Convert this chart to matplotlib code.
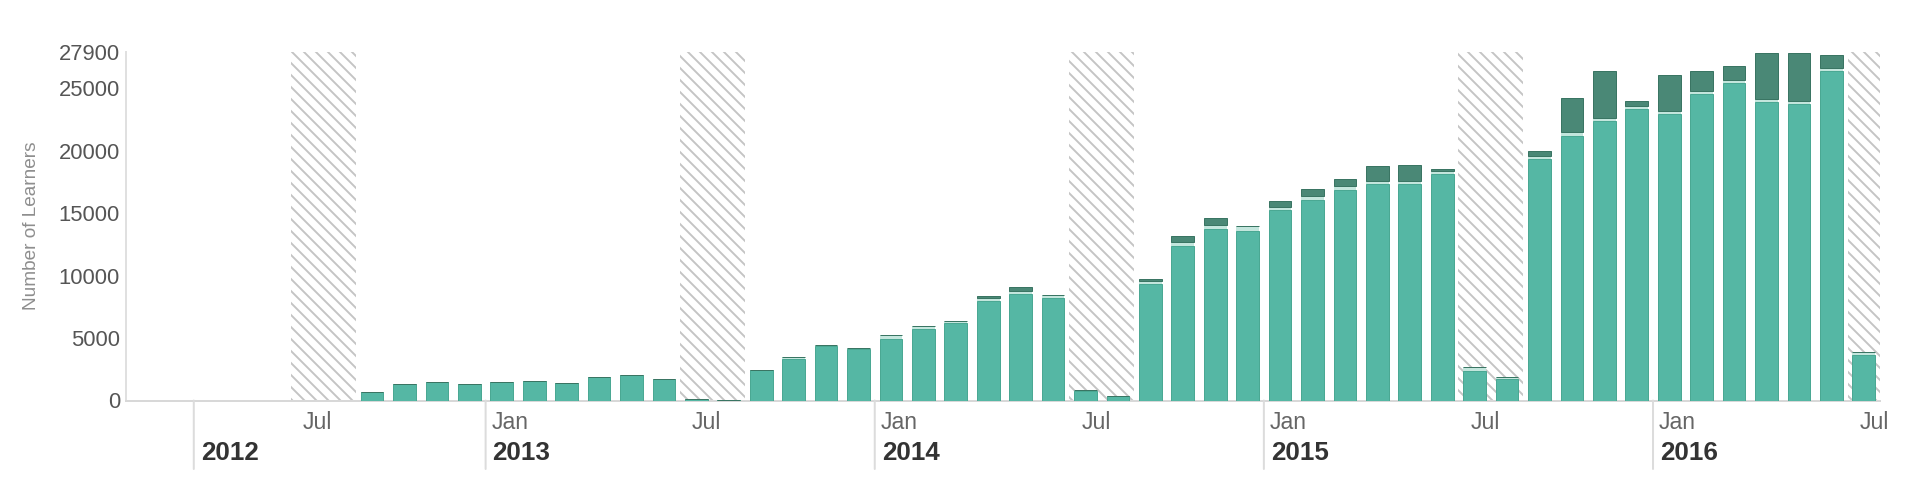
import matplotlib
matplotlib.use("Agg")
import matplotlib.pyplot as plt
import matplotlib.transforms as mtransforms
import numpy as np
import pandas as pd

# ---------------- data ----------------
months = ["2012-09", "2012-10", "2012-11", "2012-12",
          "2013-01", "2013-02", "2013-03", "2013-04", "2013-05", "2013-06",
          "2013-07", "2013-08", "2013-09", "2013-10", "2013-11", "2013-12",
          "2014-01", "2014-02", "2014-03", "2014-04", "2014-05", "2014-06",
          "2014-07", "2014-08", "2014-09", "2014-10", "2014-11", "2014-12",
          "2015-01", "2015-02", "2015-03", "2015-04", "2015-05", "2015-06",
          "2015-07", "2015-08", "2015-09", "2015-10", "2015-11", "2015-12",
          "2016-01", "2016-02", "2016-03", "2016-04", "2016-05", "2016-06",
          "2016-07"]
main_learners = [650, 1350, 1500, 1300,
                 1450, 1550, 1400, 1900, 2050, 1750,
                 150, 80, 2450, 3350, 4350, 4150,
                 4950, 5750, 6200, 8000, 8550, 8200,
                 800, 350, 9300, 12400, 13700, 13600,
                 15250, 16050, 16850, 17300, 17350, 18150,
                 2350, 1750, 19300, 21200, 22350, 23350,
                 22900, 24500, 25400, 23900, 23700, 26350,
                 3650]
light_learners = [0, 0, 0, 0,
                  0, 0, 0, 0, 0, 0,
                  0, 0, 0, 100, 80, 50,
                  300, 250, 150, 170, 220, 250,
                  50, 0, 250, 300, 350, 400,
                  250, 300, 300, 270, 250, 250,
                  300, 100, 250, 300, 250, 250,
                  250, 250, 250, 250, 250, 300,
                  250]
dark_learners = [0, 0, 0, 0,
                 0, 0, 0, 0, 0, 0,
                 0, 0, 0, 0, 0, 0,
                 0, 0, 0, 220, 300, 0,
                 0, 0, 200, 450, 600, 0,
                 450, 600, 600, 1200, 1250, 100,
                 0, 0, 400, 2700, 3800, 400,
                 2900, 1600, 1150, 3700, 3900, 1000,
                 0]
break_starts = ["2012-07", "2013-07", "2014-07", "2015-07", "2016-07"]
break_months = 2
year_ticks = ["2012-04", "2013-01", "2014-01", "2015-01", "2016-01"]
year_labels = ["2012", "2013", "2014", "2015", "2016"]
month_ticks = ["2012-07", "2013-01", "2013-07", "2014-01", "2014-07",
               "2015-01", "2015-07", "2016-01", "2016-07"]
month_labels = ["Jul", "Jan", "Jul", "Jan", "Jul", "Jan", "Jul", "Jan", "Jul"]
y_ticks = [0, 5000, 10000, 15000, 20000, 25000, 27900]

# ---------------- helpers ----------------
origin = pd.Period("2012-01", freq="M")
def mpos(s):
    return (pd.Period(s, freq="M") - origin).n

x = np.array([mpos(m) for m in months]) + 0.5
main_a = np.array(main_learners, float)
light_a = np.array(light_learners, float)
dark_a = np.array(dark_learners, float)

# ---------------- figure ----------------
DPI = 144
plt.rcParams["font.family"] = ["Liberation Sans", "DejaVu Sans"]
plt.rcParams["hatch.linewidth"] = 0.95
plt.rcParams["hatch.color"] = "#c4c4c4"

fig = plt.figure(figsize=(1912 / DPI, 490 / DPI), dpi=DPI)
W, H = 1912, 490
ax = fig.add_axes([126 / W, 1 - 400.5 / H, (1880 - 126) / W, (400.5 - 52) / H])

ymax = 27900
ax.set_ylim(0, ymax)
ax.set_xlim(0.91, 55.0)

# hatched break periods
for b in break_starts:
    s = mpos(b)
    ax.bar(s + break_months / 2, ymax, width=break_months, bottom=0,
           facecolor="white", edgecolor="#c4c4c4", hatch="\\\\\\\\", linewidth=0,
           zorder=1)

bw = 0.7
main_c = "#55b7a4"
light_c = "#c3e6dd"
dark_c = "#4a8876"
ax.bar(x, main_a, width=bw, color=main_c, edgecolor="#4aa893", linewidth=0.5, zorder=3)
ax.bar(x, light_a, width=bw, bottom=main_a, color=light_c, edgecolor="none",
       linewidth=0, zorder=3)
ax.bar(x, dark_a, width=bw, bottom=main_a + light_a, color=dark_c,
       edgecolor="#3a7563", linewidth=0.5, zorder=3)

# axes styling
for sp in ["top", "right"]:
    ax.spines[sp].set_visible(False)
ax.spines["left"].set_color("#e0e0e0")
ax.spines["bottom"].set_color("#d8d8d8")
ax.spines["left"].set_linewidth(1.0)
ax.spines["bottom"].set_linewidth(1.0)
ax.set_yticks(y_ticks)
ax.set_yticklabels([str(v) for v in y_ticks])
ax.tick_params(axis="y", length=0, pad=3, labelsize=11, labelcolor="#555555")
ax.set_xticks([])
ax.set_ylabel("Number of Learners", fontsize=9.5, color="#8e8e8e")
ax.yaxis.set_label_coords(-0.049, 0.5)

# month labels & year dividers below the axis
trans = mtransforms.blended_transform_factory(ax.transData, ax.transAxes)
for t, lab in zip(month_ticks, month_labels):
    off = 6 if lab == "Jan" else 12
    ax.annotate(lab, xy=(mpos(t), 0), xycoords=trans,
                xytext=(off * 72 / DPI, -22 * 72 / DPI), textcoords="offset points",
                ha="left", va="center", fontsize=11.5, color="#666666",
                annotation_clip=False)
for t, lab in zip(year_ticks, year_labels):
    xp = mpos(t)
    ax.annotate("", xy=(xp, 0), xycoords=trans, xytext=(xp, -68.5 / 348.5),
                textcoords=trans,
                arrowprops=dict(arrowstyle="-", color="#dcdcdc", lw=1.0,
                                shrinkA=0, shrinkB=0),
                annotation_clip=False)
    ax.annotate(lab, xy=(xp, 0), xycoords=trans,
                xytext=(7 * 72 / DPI, -53 * 72 / DPI), textcoords="offset points",
                ha="left", va="center", fontsize=13, fontweight="bold",
                color="#333333", annotation_clip=False)

fig.savefig("out.png", dpi=DPI, facecolor="white")
